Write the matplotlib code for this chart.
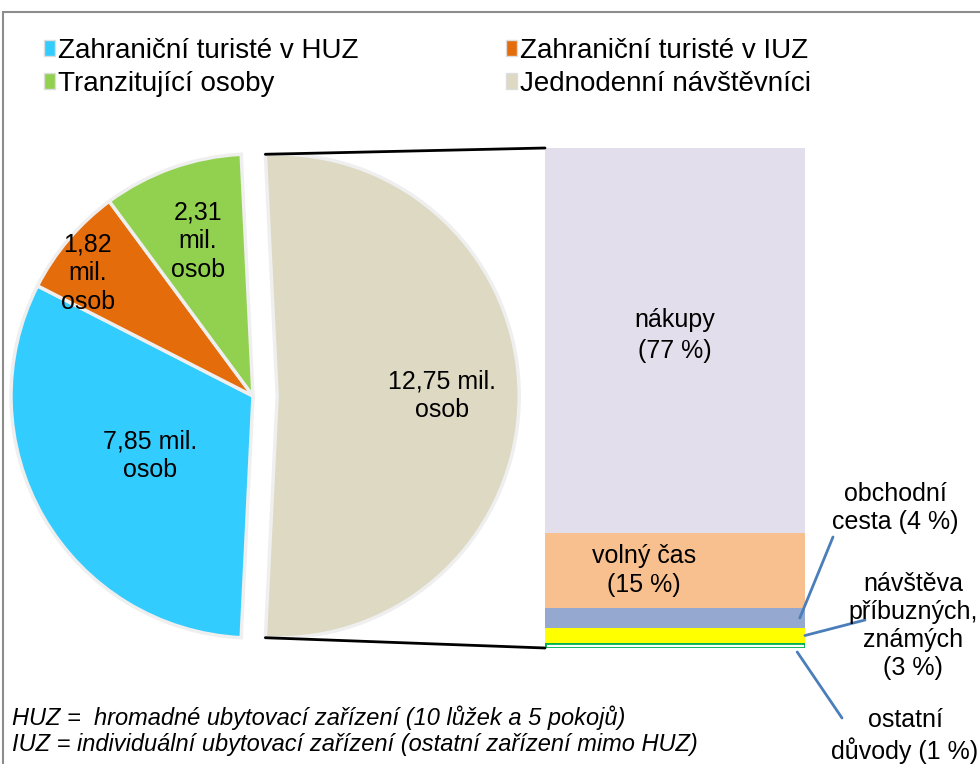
import matplotlib.pyplot as plt
import numpy as np
from matplotlib.patches import ConnectionPatch, Patch, Rectangle

plt.rcParams["font.family"] = ["Liberation Sans", "DejaVu Sans"]

# pie data (mil. osob)
pie_labels = ["Zahraniční turisté v HUZ", "Zahraniční turisté v IUZ",
              "Tranzitující osoby", "Jednodenní návštěvníci"]
pie_values = [7.85, 1.82, 2.31, 12.75]
pie_colors = ["#33CCFF", "#E46C0A", "#92D050", "#DDD9C3"]
pie_texts = ["7,85 mil.\nosob", "1,82\nmil.\nosob", "2,31\nmil.\nosob", "12,75 mil.\nosob"]

# breakdown of day visitors (%), bottom to top
bar_labels = ["ostatní\ndůvody (1 %)", "návštěva\npříbuzných,\nznámých\n(3 %)",
              "obchodní\ncesta (4 %)", "volný čas\n(15 %)", "nákupy\n(77 %)"]
bar_values = [1, 3, 4, 15, 77]
bar_colors = ["white", "#FFFF00", "#95A9D0", "#F9C08F", "#E3DEEC"]
bar_edges = ["#00B050", "none", "none", "none", "none"]

W, H = 980, 764
fig = plt.figure(figsize=(W / 100, H / 100), dpi=100)


def px_rect(x0, y0, x1, y1):
    return [x0 / W, 1 - y1 / H, (x1 - x0) / W, (y1 - y0) / H]


def px(x, y):
    return (x / W, 1 - y / H)


# outer frame
fig.add_artist(Rectangle((3 / W, -0.01), 1.1, 1 - 12 / H + 0.01, transform=fig.transFigure,
                         fill=False, edgecolor="#8C8C8C", linewidth=1.5))

# --- pie ---
cx, cy, R = 253, 396, 242
ax_pie = fig.add_axes(px_rect(cx - R, cy - R, cx + R, cy + R))
frac = pie_values[-1] / sum(pie_values)
start = 360 - frac * 180
wedges, _ = ax_pie.pie(pie_values, colors=pie_colors, startangle=start, counterclock=False,
                       explode=[0, 0, 0, 0.1], radius=1,
                       wedgeprops=dict(edgecolor="#EFEFEF", linewidth=2.5))
ax_pie.set_xlim(-1, 1)
ax_pie.set_ylim(-1, 1)
ax_pie.set_aspect("auto")
for w in wedges:
    w.set_clip_on(False)

# label placement: distance from wedge centre and angle shift (deg)
label_r = [0.49, 0.85, 0.68, 0.68]
label_shift = [0, 3.7, 0, 0]
for w, txt, r, s in zip(wedges, pie_texts, label_r, label_shift):
    ang = np.deg2rad((w.theta1 + w.theta2) / 2 + s)
    x0, y0 = w.center
    ax_pie.text(x0 + r * np.cos(ang), y0 + r * np.sin(ang), txt, ha="center", va="center",
                fontsize=18, linespacing=1.25)

# --- bar ---
ax_bar = fig.add_axes(px_rect(545, 148, 805, 648))
bottom = 0
for v, c, e in zip(bar_values, bar_colors, bar_edges):
    ax_bar.bar(0.5, v, width=1, bottom=bottom, color=c, edgecolor=e, linewidth=2)
    bottom += v
ax_bar.set_xlim(0, 1)
ax_bar.set_ylim(0, sum(bar_values))
ax_bar.axis("off")

total = sum(bar_values)
ax_bar.text(0.5, total - bar_values[-1] / 2 + 1, bar_labels[-1], ha="center", va="center",
            fontsize=18, linespacing=1.4)
ax_bar.text(0.38, total - bar_values[-1] - bar_values[-2] / 2, bar_labels[-2], ha="center",
            va="center", fontsize=18, linespacing=1.3)

# small segments: labels outside with leader lines
mids = np.cumsum(bar_values) - np.array(bar_values) / 2
outside = [(2, (895, 508), (0.98, mids[2]), (833, 537)),
           (1, (913, 626), (1.0, mids[1]), (865, 620)),
           (0, (905, 736), (0.97, -0.8), (842, 718))]
for i, (tx, ty), seg, end in outside:
    fig.text(*px(tx, ty), bar_labels[i], ha="center", va="center", fontsize=18,
             linespacing=1.2)
    fig.add_artist(ConnectionPatch(xyA=seg, coordsA=ax_bar.transData, xyB=px(*end),
                                   coordsB=fig.transFigure, color="#4A7EBB", linewidth=2))

# connecting lines pie -> bar
beige = wedges[-1]
bx, by = beige.center
for ang, yb in [(beige.theta2, total), (beige.theta1, 0)]:
    a = np.deg2rad(ang)
    fig.add_artist(ConnectionPatch(xyA=(bx + np.cos(a), by + np.sin(a)), coordsA=ax_pie.transData,
                                   xyB=(0, yb), coordsB=ax_bar.transData, color="black",
                                   linewidth=2))

# legend, filled row by row
order = [0, 2, 1, 3]
handles = [Patch(facecolor=pie_colors[i], edgecolor="#DDDDDD") for i in order]
fig.legend(handles, [pie_labels[i] for i in order], ncol=2, loc="upper left",
           bbox_to_anchor=px(30, 24), frameon=False, fontsize=20, handlelength=0.4,
           handleheight=0.55, handletextpad=0.12, columnspacing=5.3, labelspacing=0.25,
           borderpad=0)

fig.text(*px(12, 718), "HUZ =  hromadné ubytovací zařízení (10 lůžek a 5 pokojů)",
         fontsize=17, style="italic", va="center")
fig.text(*px(12, 745), "IUZ = individuální ubytovací zařízení (ostatní zařízení mimo HUZ)",
         fontsize=17, style="italic", va="center")

fig.savefig("out.png", dpi=100)
